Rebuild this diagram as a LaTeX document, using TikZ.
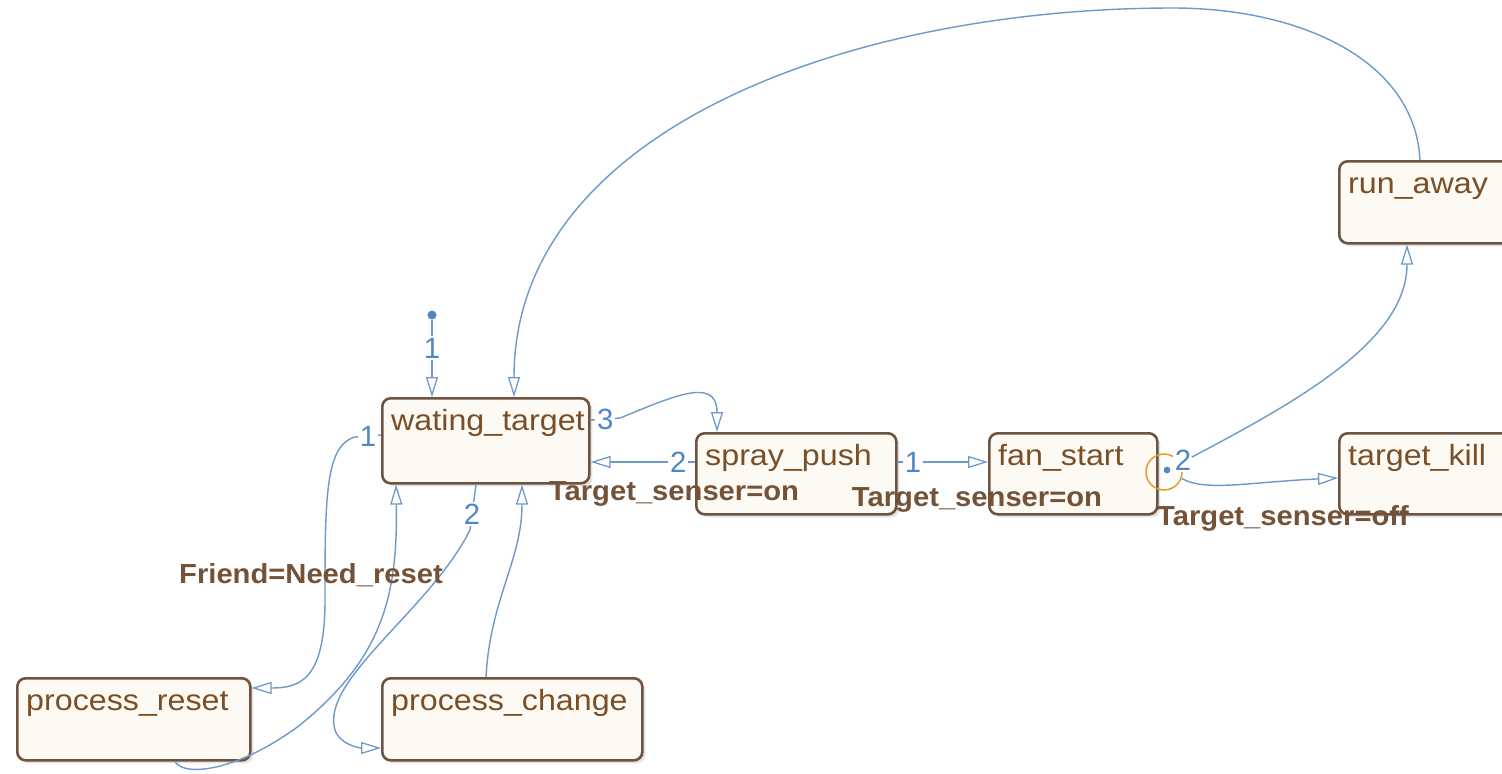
\documentclass[tikz,border=0pt]{standalone}
\usepackage{fontspec}
\setmainfont{Liberation Sans}
\newfontfamily\stfont[FakeStretch=1.1]{Liberation Sans}
\newfontfamily\condfont[FakeStretch=1.06]{Liberation Sans}
\usetikzlibrary{arrows.meta,shadows,calc}
\definecolor{boxbrown}{HTML}{6E5440}
\definecolor{boxfill}{HTML}{FCFAF2}
\definecolor{txtbrown}{HTML}{7A4E26}
\definecolor{lblbrown}{HTML}{735238}
\definecolor{lineblue}{HTML}{6D9ACB}
\definecolor{numblue}{HTML}{4F86C6}
\definecolor{junc}{HTML}{E0A030}
\begin{document}
\begin{tikzpicture}[x=0.03cm,y=-0.03cm,
  statebox/.style={draw=boxbrown, line width=2.2pt, fill=boxfill, rounded corners=0.25cm, anchor=north west, inner sep=0pt,
    drop shadow={shadow xshift=0.09cm, shadow yshift=-0.09cm, opacity=0.22}},
  sz/.style 2 args={minimum width=#1*0.03cm, minimum height=#2*0.03cm},
  statename/.style={anchor=base west, inner sep=0pt, text=txtbrown, font=\stfont\fontsize{25}{28}\selectfont},
  cond/.style={text=lblbrown, font=\condfont\bfseries\fontsize{23.5}{28}\selectfont, inner sep=0pt},
  num/.style={text=numblue, font=\fontsize{25}{28}\selectfont, fill=white, inner sep=1.5pt},
  trans/.style={draw=lineblue, line width=1.2pt},
  arr/.style={trans, -{Triangle[open, length=0.6cm, width=0.36cm, line width=1.1pt]}},
]
\fill[white] (0,0) rectangle (1502,773);
\useasboundingbox (0,0) rectangle (1502,773);
\clip (0,0) rectangle (1502,773);

% states
\node[statebox, sz={207}{85}] (wt) at (381,397) {};
\node[statename] (wtn) at ($(wt.north west)+(10,33)$) {wating\_target};
\node[statebox, sz={200}{81}] (sp) at (695,432) {};
\node[statename] (spn) at ($(sp.north west)+(10,33)$) {spray\_push};
\node[statebox, sz={168}{81}] (fs) at (988,432) {};
\node[statename] (fsn) at ($(fs.north west)+(10,33)$) {fan\_start};
\node[statebox, sz={200}{82}] (ra) at (1338,160) {};
\node[statename] (ran) at ($(ra.north west)+(10,33)$) {run\_away};
\node[statebox, sz={200}{81}] (tk) at (1338,432) {};
\node[statename] (tkn) at ($(tk.north west)+(10,33)$) {target\_kill};
\node[statebox, sz={233}{82}] (pr) at (16,677) {};
\node[statename] (prn) at ($(pr.north west)+(10,33)$) {process\_reset};
\node[statebox, sz={260}{82}] (pc) at (381,677) {};
\node[statename] (pcn) at ($(pc.north west)+(10,33)$) {process\_change};

% default transition
\node[circle, fill=numblue, inner sep=0pt, minimum size=0.27cm] (init) at (432,315) {};
\draw[arr] (init) -- node[num, pos=0.37] (d1) {1} (init |- wt.north);

% run_away -> wating_target
\draw[arr] (1420,0 |- ra.north) .. controls (1415,60) and (1300,8) .. (1173,8)
  .. controls (850,8) and (514,130) .. (514,0 |- wt.north);

% wating_target -> spray_push (3)
\draw[arr] (wt.east |- 0,420) -- node[num] (t3) {3} (620,418)
  .. controls (670,398) and (717,375) .. (717,0 |- sp.north);

% spray_push -> wating_target (2)
\draw[arr] (sp.west |- 0,462) -- node[num, pos=0.16] (t2) {2} (wt.east |- 0,462);

% spray_push -> fan_start (1)
\draw[arr] (sp.east |- 0,462) -- node[num, pos=0.17] (s1) {1} (fs.west |- 0,462);

% junction at fan_start
\node[circle, draw=junc, line width=1.3pt, minimum size=1.08cm, inner sep=0pt] (jn) at (1164,472) {};
\node[circle, fill=numblue, inner sep=0pt, minimum size=0.2cm] (jd) at (1167,470) {};
\node[num] (j2) at (1183,460) {2};
\coordinate (jo) at (1192,457);
\draw[arr] (jo) .. controls (1300,400) and (1407,340) .. (1407,0 |- ra.south);
\draw[arr] (jn.-20) .. controls (1205,492) and (1250,482) .. (tk.west |- 0,478);

% wating_target -> process_reset (1)
\draw[arr] (wt.west |- 0,435) -- node[num] (r1) {1} (355,437)
  .. controls (325,445) and (325,500) .. (325,600)
  .. controls (325,680) and (300,688) .. (pr.east |- 0,688);

% wating_target -> process_change (2)
\draw[arr] (476,0 |- wt.south) -- node[num, pos=0.65] (c2n) {2} (470,530)
  .. controls (430,610) and (320,680) .. (335,730)
  .. controls (340,745) and (360,748) .. (pc.west |- 0,748);

% process_reset -> wating_target
\draw[arr] (175,0 |- pr.south) .. controls (185,778) and (240,770) .. (300,725)
  .. controls (380,660) and (398,600) .. (396,0 |- wt.south);

% process_change -> wating_target
\draw[arr] (486,0 |- pc.north) .. controls (490,600) and (522,560) .. (522,0 |- wt.south);

% conditions
\node[cond] (k1) at (674,494) {Target\_senser=on};
\node[cond] (k2) at (977,500) {Target\_senser=on};
\node[cond] (k3) at (1283,518) {Target\_senser=off};
\node[cond] (k4) at (311,575) {Friend=Need\_reset};
\end{tikzpicture}
\end{document}
